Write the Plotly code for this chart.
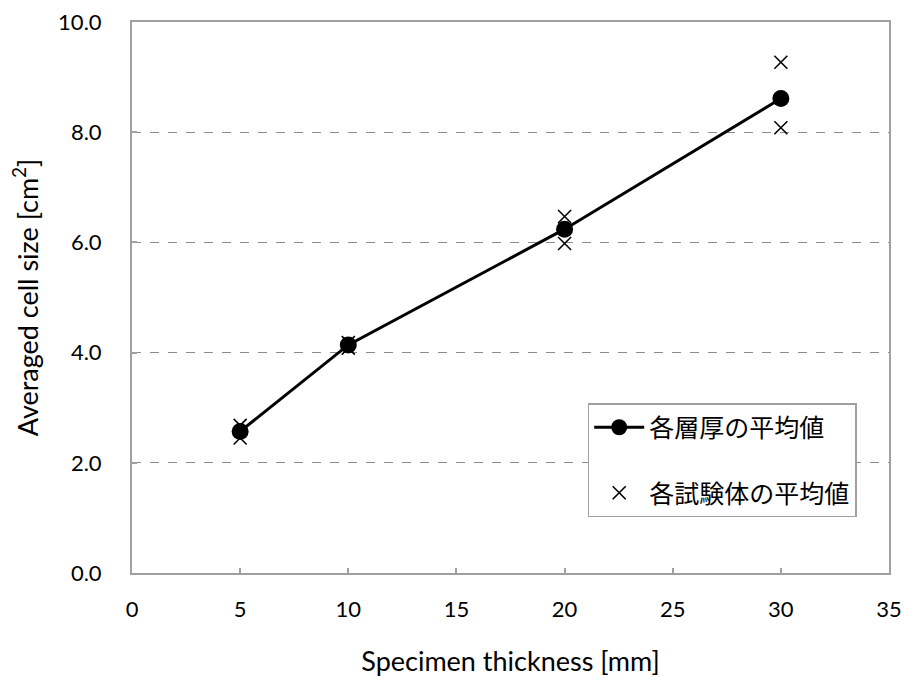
import plotly.graph_objects as go

thickness = [5, 10, 20, 30]
layer_mean = [2.57, 4.14, 6.24, 8.61]
spec_x = [5, 5, 10, 10, 20, 20, 30, 30]
spec_y = [2.68, 2.45, 4.18, 4.08, 6.47, 5.98, 9.27, 8.08]

x_ticks = [0, 5, 10, 15, 20, 25, 30, 35]
y_ticks = [0, 2, 4, 6, 8, 10]
y_tick_text = ["0.0", "2.0", "4.0", "6.0", "8.0", "10.0"]

font_latin = "Lato, 'Open Sans', sans-serif"
font_jp = "'Noto Sans CJK JP', sans-serif"

fig = go.Figure()
fig.add_trace(go.Scatter(
    x=spec_x, y=spec_y, mode="markers", name="各試験体の平均値",
    marker=dict(symbol="x-thin", size=13, color="black",
                line=dict(color="black", width=1.6)),
    legendgroup="b", legendrank=2,
))
fig.add_trace(go.Scatter(
    x=thickness, y=layer_mean, mode="lines+markers", name="各層厚の平均値",
    line=dict(color="black", width=3),
    marker=dict(symbol="circle", size=17, color="black"),
    legendgroup="a", legendrank=1,
))

axis_common = dict(
    showline=True, linecolor="#a0a0a0", linewidth=2, mirror=True,
    ticks="inside", ticklen=5, tickcolor="#a0a0a0", tickwidth=1.5,
    zeroline=False, automargin=False,
    tickfont=dict(family=font_latin, size=22, color="black"),
)

fig.update_xaxes(
    range=[0, 35], tickvals=x_ticks, showgrid=False,
    title=dict(text="Specimen thickness [mm]", font=dict(family=font_latin, size=27, color="black"), standoff=31),
    ticklabelstandoff=16,
    **axis_common,
)
fig.update_yaxes(
    range=[0, 10], tickvals=y_ticks, ticktext=y_tick_text,
    showgrid=True, gridcolor="#8c8c8c", gridwidth=1, griddash="dash",
    title=dict(text="Averaged cell size [cm<sup>2</sup>]", font=dict(family=font_latin, size=27, color="black"), standoff=12),
    ticklabelstandoff=24,
    **axis_common,
)

fig.update_layout(
    width=907, height=681,
    margin=dict(l=132, r=18, t=22, b=108),
    plot_bgcolor="white", paper_bgcolor="white",
    showlegend=True,
    legend=dict(
        x=0.602, y=0.3085, xanchor="left", yanchor="top",
        bgcolor="white", bordercolor="#a0a0a0", borderwidth=1.5,
        font=dict(family=font_jp, size=25, color="black"),
        traceorder="grouped", tracegroupgap=30,
        itemwidth=50,
    ),
)

fig.write_html("out.html")
